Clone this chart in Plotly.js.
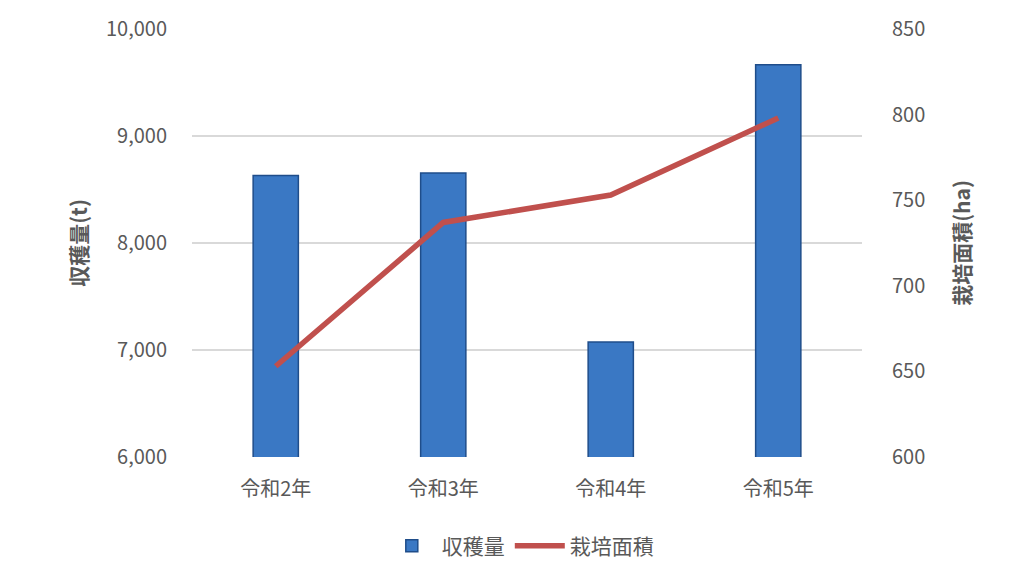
<!DOCTYPE html>
<html>
<head>
<meta charset="utf-8">
<script src="https://cdn.plot.ly/plotly-3.0.1.min.js"></script>
<style>
  html, body { margin: 0; padding: 0; background: #fff; }
  #plot { width: 1024px; height: 576px; }
</style>
</head>
<body>
<div id="plot"></div>
<script>
// categories and values
var years = ['令和2年', '令和3年', '令和4年', '令和5年'];
var harvest = [8630, 8655, 7075, 9665];   // 収穫量 (t)
var area = [653, 737, 753, 798];          // 栽培面積 (ha)

var font = '"Noto Sans CJK JP", "Noto Sans", sans-serif';

var bars = {
  x: years,
  y: harvest,
  name: '収穫量',
  type: 'bar',
  marker: {
    color: '#3a78c4',
    line: { color: '#1f4d8a', width: 1.5 }
  }
};

var line = {
  x: years,
  y: area,
  name: '栽培面積',
  type: 'scatter',
  mode: 'lines',
  yaxis: 'y2',
  line: { color: '#c0504d', width: 5.5 }
};

var layout = {
  width: 1024,
  height: 576,
  margin: { l: 192, r: 162, t: 29, b: 119, autoexpand: false },
  paper_bgcolor: '#fff',
  plot_bgcolor: '#fff',
  font: { family: font, size: 20, color: '#595959' },
  bargap: 0.73,
  showlegend: true,
  legend: {
    orientation: 'h',
    x: 0.49, xanchor: 'center',
    y: -0.208, yanchor: 'middle',
    itemwidth: 50,
    font: { size: 21, color: '#595959' }
  },
  xaxis: {
    showline: false,
    ticks: '',
    ticklabelstandoff: 18,
    tickfont: { size: 20, color: '#595959' }
  },
  yaxis: {
    range: [6000, 10000],
    dtick: 1000,
    tickformat: ',d',
    gridcolor: '#d9d9d9',
    gridwidth: 1.5,
    zeroline: false,
    showline: false,
    ticks: '',
    ticklabelstandoff: 24,
    tickfont: { size: 20, color: '#595959' },
    title: { text: '収穫量(t)', font: { size: 21, color: '#595959', family: font, weight: 'bold' }, standoff: 12 }
  },
  yaxis2: {
    overlaying: 'y',
    side: 'right',
    range: [600, 850],
    dtick: 50,
    showgrid: false,
    zeroline: false,
    showline: false,
    ticks: '',
    ticklabelstandoff: 29,
    tickfont: { size: 20, color: '#595959' },
    title: { text: '栽培面積(ha)', font: { size: 21, color: '#595959', family: font, weight: 'bold' }, standoff: 30 }
  }
};

Plotly.newPlot('plot', [bars, line], layout, { displayModeBar: false, staticPlot: true });
</script>
</body>
</html>
